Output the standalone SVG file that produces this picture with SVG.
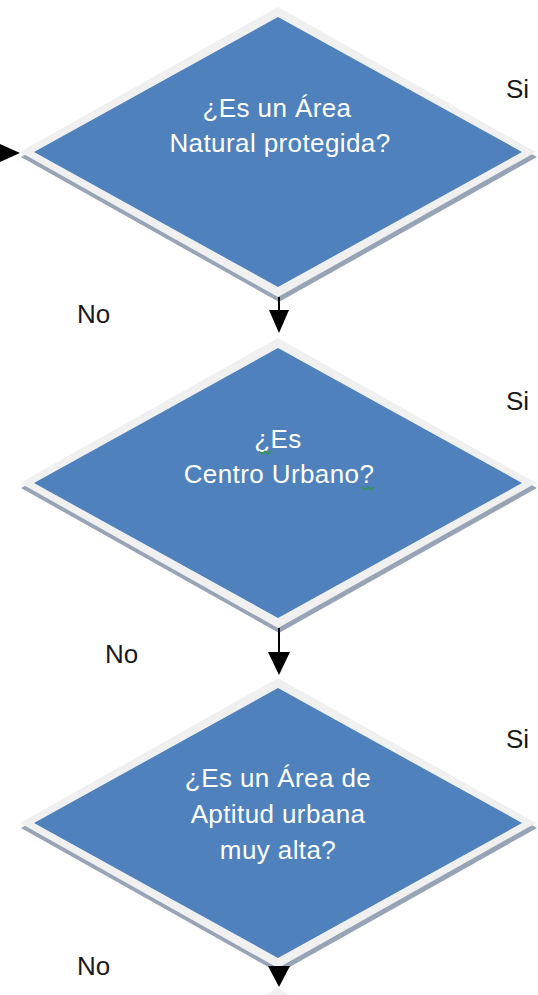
<svg xmlns="http://www.w3.org/2000/svg" width="538" height="995" viewBox="0 0 538 995">
<style>
.shadow{fill:#97A4B6}
.bevel{fill:#F0F0F0}
.face{fill:#4F81BD}
.q{font-family:"Liberation Sans",Arial,sans-serif;font-size:26px;letter-spacing:0.4px;fill:#FFFFFF;text-anchor:middle}
.lbl{font-family:"Liberation Sans",Arial,sans-serif;font-size:26px;fill:#1A1A1A}
.conn line{stroke:#000;stroke-width:2}
.conn polygon{fill:#000}
.squig{fill:none;stroke:#2E9B3A;stroke-width:1.2}
</style>
<defs>
<g id="dia">
<polygon class="shadow" points="1,-140 259,5 1,150 -257,5"/>
<polygon class="bevel" points="0,-145 258,0 0,145 -258,0"/>
<polygon class="face" points="0,-135 244,0 0,135 -244,0"/>
</g>
</defs>
<rect width="538" height="995" fill="#FFFFFF"/>

<g id="next-partial">
<polygon class="bevel" points="278,988 290,995 266,995"/>
</g>

<g id="decision1">
<use href="#dia" x="278" y="152"/>
<text class="q" x="277" y="117">¿Es un Área</text>
<text class="q" x="280" y="152">Natural protegida?</text>
</g>

<g id="decision2">
<use href="#dia" x="278" y="483"/>
<text class="q" x="278" y="448">¿Es</text>
<text class="q" x="279" y="483">Centro Urbano?</text>
<polyline class="squig" points="259,451 262,454 265,451 268,454 271,451"/>
<polyline class="squig" points="362,487 365,490 368,487 371,490 374,487"/>
</g>

<g id="decision3">
<use href="#dia" x="278" y="823"/>
<text class="q" x="278" y="787">¿Es un Área de</text>
<text class="q" x="278" y="823">Aptitud urbana</text>
<text class="q" x="278" y="859">muy alta?</text>
</g>

<g id="labels">
<text class="lbl" x="506" y="98">Si</text>
<text class="lbl" x="77" y="323">No</text>
<text class="lbl" x="506" y="410">Si</text>
<text class="lbl" x="105" y="663">No</text>
<text class="lbl" x="506" y="748">Si</text>
<text class="lbl" x="77" y="975">No</text>
</g>

<g class="conn" id="connectors">
<polygon points="-2,143 20,153 -2,163"/>
<line x1="279" y1="297" x2="279" y2="312"/>
<polygon points="269,310 289,310 279,333"/>
<line x1="279" y1="628" x2="279" y2="654"/>
<polygon points="268,652 290,652 279,675"/>
<polygon points="268,966 290,966 279,987"/>
</g>
</svg>
